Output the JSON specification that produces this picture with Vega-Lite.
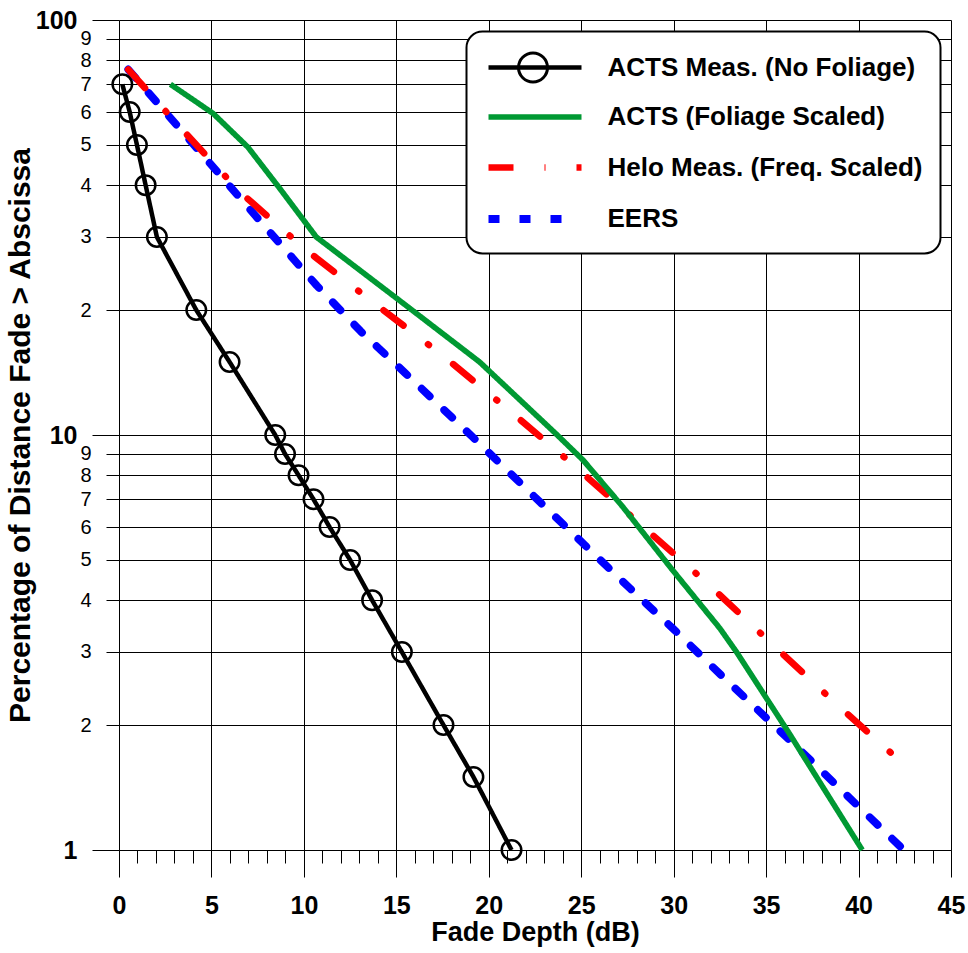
{
  "$schema": "https://vega.github.io/schema/vega-lite/v6.json",
  "width": 832,
  "height": 830,
  "autosize": {"type": "none"},
  "padding": {"left": 119, "top": 20, "right": 17, "bottom": 103},
  "background": "white",
  "config": {
    "font": "Liberation Sans",
    "view": {"stroke": null},
    "legend": {"strokeWidth": 2}
  },
  "data": {
    "values": [
      {"series": "ACTS Meas. (No Foliage)", "db": 0.18, "pct": 70},
      {"series": "ACTS Meas. (No Foliage)", "db": 0.58, "pct": 60},
      {"series": "ACTS Meas. (No Foliage)", "db": 0.97, "pct": 50},
      {"series": "ACTS Meas. (No Foliage)", "db": 1.44, "pct": 40},
      {"series": "ACTS Meas. (No Foliage)", "db": 2.05, "pct": 30},
      {"series": "ACTS Meas. (No Foliage)", "db": 4.18, "pct": 20},
      {"series": "ACTS Meas. (No Foliage)", "db": 5.98, "pct": 15},
      {"series": "ACTS Meas. (No Foliage)", "db": 8.45, "pct": 10},
      {"series": "ACTS Meas. (No Foliage)", "db": 8.98, "pct": 9},
      {"series": "ACTS Meas. (No Foliage)", "db": 9.71, "pct": 8},
      {"series": "ACTS Meas. (No Foliage)", "db": 10.52, "pct": 7},
      {"series": "ACTS Meas. (No Foliage)", "db": 11.39, "pct": 6},
      {"series": "ACTS Meas. (No Foliage)", "db": 12.5, "pct": 5},
      {"series": "ACTS Meas. (No Foliage)", "db": 13.69, "pct": 4},
      {"series": "ACTS Meas. (No Foliage)", "db": 15.3, "pct": 3},
      {"series": "ACTS Meas. (No Foliage)", "db": 17.55, "pct": 2},
      {"series": "ACTS Meas. (No Foliage)", "db": 19.17, "pct": 1.5},
      {"series": "ACTS Meas. (No Foliage)", "db": 21.23, "pct": 1},
      {"series": "ACTS (Foliage Scaled)", "db": 2.78, "pct": 70},
      {"series": "ACTS (Foliage Scaled)", "db": 5.08, "pct": 59.6},
      {"series": "ACTS (Foliage Scaled)", "db": 6.97, "pct": 49.4},
      {"series": "ACTS (Foliage Scaled)", "db": 8.69, "pct": 39.3},
      {"series": "ACTS (Foliage Scaled)", "db": 10.67, "pct": 30},
      {"series": "ACTS (Foliage Scaled)", "db": 15.35, "pct": 20.8},
      {"series": "ACTS (Foliage Scaled)", "db": 19.5, "pct": 15},
      {"series": "ACTS (Foliage Scaled)", "db": 23.6, "pct": 10.1},
      {"series": "ACTS (Foliage Scaled)", "db": 25.1, "pct": 8.7},
      {"series": "ACTS (Foliage Scaled)", "db": 27.24, "pct": 6.72},
      {"series": "ACTS (Foliage Scaled)", "db": 29.9, "pct": 4.75},
      {"series": "ACTS (Foliage Scaled)", "db": 32.5, "pct": 3.42},
      {"series": "ACTS (Foliage Scaled)", "db": 33.4, "pct": 3.0},
      {"series": "ACTS (Foliage Scaled)", "db": 36.25, "pct": 1.91},
      {"series": "ACTS (Foliage Scaled)", "db": 40.2, "pct": 1.0},
      {"series": "Helo Meas. (Freq. Scaled)", "db": 0.5, "pct": 76},
      {"series": "Helo Meas. (Freq. Scaled)", "db": 3.28, "pct": 55.3},
      {"series": "Helo Meas. (Freq. Scaled)", "db": 6.52, "pct": 38.6},
      {"series": "Helo Meas. (Freq. Scaled)", "db": 10.04, "pct": 28.1},
      {"series": "Helo Meas. (Freq. Scaled)", "db": 13.73, "pct": 20.9},
      {"series": "Helo Meas. (Freq. Scaled)", "db": 17.46, "pct": 15.6},
      {"series": "Helo Meas. (Freq. Scaled)", "db": 21.12, "pct": 11.45},
      {"series": "Helo Meas. (Freq. Scaled)", "db": 24.72, "pct": 8.36},
      {"series": "Helo Meas. (Freq. Scaled)", "db": 28.24, "pct": 6.07},
      {"series": "Helo Meas. (Freq. Scaled)", "db": 31.75, "pct": 4.42},
      {"series": "Helo Meas. (Freq. Scaled)", "db": 35.21, "pct": 3.17},
      {"series": "Helo Meas. (Freq. Scaled)", "db": 38.65, "pct": 2.28},
      {"series": "Helo Meas. (Freq. Scaled)", "db": 42.3, "pct": 1.63},
      {"series": "EERS", "db": 0.5, "pct": 76},
      {"series": "EERS", "db": 4.09, "pct": 49.8},
      {"series": "EERS", "db": 7.37, "pct": 33.8},
      {"series": "EERS", "db": 10.7, "pct": 22.9},
      {"series": "EERS", "db": 13.06, "pct": 17.8},
      {"series": "EERS", "db": 15.48, "pct": 14.1},
      {"series": "EERS", "db": 19.17, "pct": 9.85},
      {"series": "EERS", "db": 22.79, "pct": 6.88},
      {"series": "EERS", "db": 25.23, "pct": 5.41},
      {"series": "EERS", "db": 27.66, "pct": 4.26},
      {"series": "EERS", "db": 29.95, "pct": 3.42},
      {"series": "EERS", "db": 32.56, "pct": 2.64},
      {"series": "EERS", "db": 36.22, "pct": 1.85},
      {"series": "EERS", "db": 39.86, "pct": 1.29},
      {"series": "EERS", "db": 42.45, "pct": 1.0}
    ]
  },
  "encoding": {
    "x": {
      "field": "db",
      "type": "quantitative",
      "scale": {"domain": [0, 45], "nice": false, "zero": false},
      "axis": {
        "title": "Fade Depth (dB)",
        "titleFontSize": 27,
        "titleFontWeight": "bold",
        "titleColor": "black",
        "titlePadding": 1,
        "values": [0,1,2,3,4,5,6,7,8,9,10,11,12,13,14,15,16,17,18,19,20,21,22,23,24,25,26,27,28,29,30,31,32,33,34,35,36,37,38,39,40,41,42,43,44,45],
        "labelExpr": "datum.value % 5 === 0 ? datum.label : ''",
        "labelFontSize": 25,
        "labelFontWeight": "bold",
        "labelColor": "black",
        "labelPadding": 16,
        "labelFlush": false,
        "labelOverlap": false,
        "labelBound": false,
        "grid": true,
        "gridColor": "black",
        "gridWidth": 1,
        "gridOpacity": {"condition": {"test": "datum.value % 5 === 0", "value": 1}, "value": 0},
        "ticks": true,
        "tickColor": "black",
        "tickWidth": 1,
        "tickSize": {"condition": {"test": "datum.value % 5 === 0", "value": 27}, "value": 13},
        "domain": true,
        "domainColor": "black",
        "domainWidth": 1
      }
    },
    "y": {
      "field": "pct",
      "type": "quantitative",
      "scale": {"type": "log", "domain": [1, 100], "nice": false},
      "axis": {
        "title": "Percentage of Distance Fade > Abscissa",
        "titleFontSize": 30,
        "titleFontWeight": "bold",
        "titleColor": "black",
        "titlePadding": 0,
        "values": [1,2,3,4,5,6,7,8,9,10,20,30,40,50,60,70,80,90,100],
        "labelExpr": "datum.value > 10 && datum.value < 100 ? format(datum.value / 10, 'd') : format(datum.value, 'd')",
        "labelFontSize": {"condition": {"test": "datum.value === 1 || datum.value === 10 || datum.value === 100", "value": 25}, "value": 20},
        "labelFontWeight": {"condition": {"test": "datum.value === 1 || datum.value === 10 || datum.value === 100", "value": "bold"}, "value": "normal"},
        "labelColor": "black",
        "labelPadding": 15,
        "labelOverlap": false,
        "labelBound": false,
        "labelFlush": false,
        "grid": true,
        "gridColor": "black",
        "gridWidth": 1,
        "ticks": true,
        "tickColor": "black",
        "tickWidth": 1,
        "tickSize": {"condition": {"test": "datum.value === 1 || datum.value === 10 || datum.value === 100", "value": 27}, "value": 13},
        "domain": false
      }
    }
  },
  "layer": [
    {
      "transform": [{"filter": "datum.series === 'EERS'"}],
      "mark": {"type": "line", "strokeCap": "round", "strokeJoin": "round"},
      "encoding": {
        "color": {
          "field": "series", "type": "nominal",
          "scale": {"domain": ["ACTS Meas. (No Foliage)", "ACTS (Foliage Scaled)", "Helo Meas. (Freq. Scaled)", "EERS"], "range": ["#000000", "#009933", "#ff0000", "#0000ff"]},
          "legend": {
            "title": null,
            "orient": "none",
            "legendX": 347.5,
            "legendY": 11.5,
            "padding": 18,
            "fillColor": "white",
            "strokeColor": "black",
            "cornerRadius": 16,
            "symbolType": "M-3,0H3",
            "symbolSize": 961,
            "symbolOffset": 31,
            "symbolFillColor": "transparent",
            "labelOffset": 53,
            "labelFontSize": 26,
            "labelFontWeight": "bold",
            "labelColor": "black",
            "labelLimit": 500,
            "rowPadding": 18
          }
        },
        "strokeDash": {
          "field": "series", "type": "nominal",
          "scale": {"domain": ["ACTS Meas. (No Foliage)", "ACTS (Foliage Scaled)", "Helo Meas. (Freq. Scaled)", "EERS"], "range": [[1, 0], [1, 0], [25, 31, 1, 31], [11, 20]]}
        },
        "strokeWidth": {
          "field": "series", "type": "nominal",
          "scale": {"type": "point", "padding": 0, "domain": ["ACTS Meas. (No Foliage)", "ACTS (Foliage Scaled)", "Helo Meas. (Freq. Scaled)", "EERS"], "range": [4.5, 7.8]}
        }
      }
    },
    {
      "transform": [{"filter": "datum.series === 'Helo Meas. (Freq. Scaled)'"}],
      "mark": {"type": "line", "strokeCap": "round", "strokeJoin": "round"},
      "encoding": {
        "color": {"field": "series", "type": "nominal"},
        "strokeDash": {"field": "series", "type": "nominal"},
        "strokeWidth": {"field": "series", "type": "nominal"}
      }
    },
    {
      "transform": [{"filter": "datum.series === 'ACTS (Foliage Scaled)'"}],
      "mark": {"type": "line", "strokeJoin": "round"},
      "encoding": {
        "color": {"field": "series", "type": "nominal"},
        "strokeDash": {"field": "series", "type": "nominal"},
        "strokeWidth": {"field": "series", "type": "nominal"}
      }
    },
    {
      "transform": [{"filter": "datum.series === 'ACTS Meas. (No Foliage)'"}],
      "mark": {"type": "line", "strokeJoin": "round"},
      "encoding": {
        "color": {"field": "series", "type": "nominal"},
        "strokeDash": {"field": "series", "type": "nominal"},
        "strokeWidth": {"field": "series", "type": "nominal"}
      }
    },
    {
      "transform": [{"filter": "datum.series === 'ACTS Meas. (No Foliage)'"}],
      "mark": {"type": "point", "filled": false, "size": 380, "strokeWidth": 2.5, "color": "black", "opacity": 1},
      "encoding": {
        "shape": {
          "field": "series", "type": "nominal",
          "scale": {"range": ["circle"]},
          "legend": {
            "title": null,
            "orient": "none",
            "legendX": 398,
            "legendY": 31.5,
            "padding": 0,
            "symbolSize": 841,
            "symbolStrokeWidth": 3,
            "symbolStrokeColor": "black",
            "symbolFillColor": "transparent",
            "labelOpacity": 0,
            "labelFontSize": 1,
            "labelOffset": 0,
            "strokeColor": null,
            "fillColor": null
          }
        }
      }
    }
  ]
}
